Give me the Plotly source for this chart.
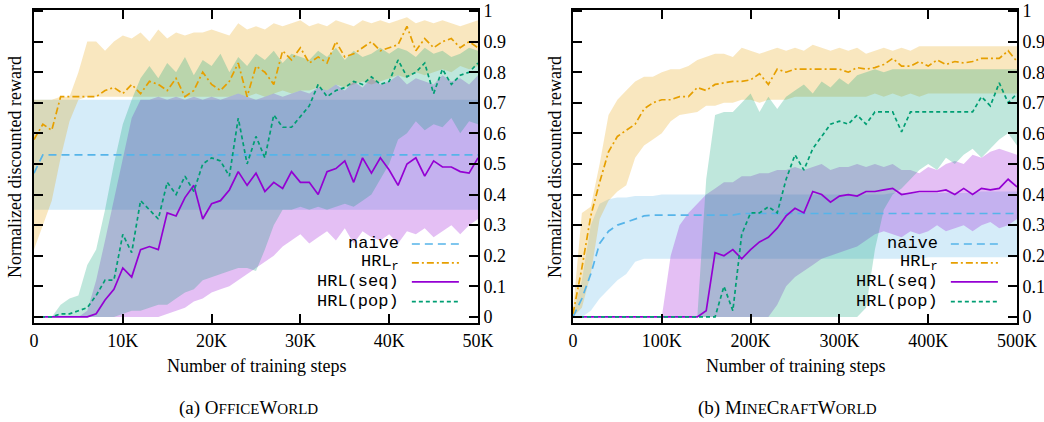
import plotly.graph_objects as go

# ---------------- data: OfficeWorld (x in steps, every 1K) ----------------
steps_L = list(range(0, 50001, 1000))

naive_mean_L = [0.47, 0.53, 0.53, 0.53, 0.53, 0.53, 0.53, 0.53, 0.53, 0.53,
                0.53, 0.53, 0.53, 0.53, 0.53, 0.53, 0.53, 0.53, 0.53, 0.53,
                0.53, 0.53, 0.53, 0.53, 0.53, 0.53, 0.53, 0.53, 0.53, 0.53,
                0.53, 0.53, 0.53, 0.53, 0.53, 0.53, 0.53, 0.53, 0.53, 0.53,
                0.53, 0.53, 0.53, 0.53, 0.53, 0.53, 0.53, 0.53, 0.53, 0.53,
                0.53]
naive_lo_L = [0.35] * 51
naive_hi_L = [0.71] * 51

hrlr_mean_L = [0.58, 0.63, 0.61, 0.72, 0.72, 0.72, 0.72, 0.72, 0.74, 0.75,
               0.73, 0.76, 0.73, 0.77, 0.76, 0.74, 0.78, 0.72, 0.74, 0.80,
               0.76, 0.74, 0.77, 0.83, 0.72, 0.82, 0.80, 0.76, 0.87, 0.84,
               0.88, 0.83, 0.85, 0.83, 0.90, 0.85, 0.86, 0.88, 0.90, 0.87,
               0.88, 0.89, 0.95, 0.87, 0.91, 0.88, 0.90, 0.91, 0.88, 0.90,
               0.88]
hrlr_hi_L = [0.71, 0.71, 0.71, 0.72, 0.72, 0.80, 0.90, 0.90, 0.87, 0.90,
             0.92, 0.91, 0.93, 0.90, 0.94, 0.91, 0.93, 0.92, 0.93, 0.93,
             0.94, 0.93, 0.92, 0.96, 0.94, 0.95, 0.94, 0.96, 0.95, 0.96,
             0.97, 0.95, 0.96, 0.95, 0.97, 0.96, 0.95, 0.97, 0.96, 0.97,
             0.96, 0.97, 0.98, 0.96, 0.97, 0.96, 0.97, 0.96, 0.95, 0.96,
             0.97]
hrlr_lo_L = [0.22, 0.30, 0.38, 0.52, 0.64, 0.71, 0.72, 0.72, 0.72, 0.72,
             0.72, 0.72, 0.72, 0.72, 0.72, 0.72, 0.72, 0.72, 0.72, 0.72,
             0.72, 0.72, 0.72, 0.73, 0.72, 0.73, 0.72, 0.73, 0.74, 0.73,
             0.74, 0.74, 0.75, 0.74, 0.76, 0.75, 0.76, 0.77, 0.76, 0.77,
             0.78, 0.79, 0.78, 0.80, 0.79, 0.80, 0.81, 0.80, 0.82, 0.81,
             0.82]

seq_mean_L = [0.0, 0.0, 0.0, 0.0, 0.0, 0.0, 0.0, 0.01, 0.055, 0.09,
              0.16, 0.13, 0.22, 0.23, 0.22, 0.34, 0.33, 0.39, 0.43, 0.32,
              0.37, 0.38, 0.415, 0.475, 0.43, 0.47, 0.41, 0.44, 0.42, 0.475,
              0.44, 0.44, 0.40, 0.475, 0.485, 0.51, 0.44, 0.52, 0.47, 0.52,
              0.48, 0.43, 0.50, 0.52, 0.46, 0.51, 0.49, 0.49, 0.475, 0.47,
              0.52]
seq_hi_L = [0.0, 0.0, 0.0, 0.0, 0.0, 0.0, 0.02, 0.12, 0.25, 0.38,
            0.52, 0.65, 0.71, 0.71, 0.72, 0.71, 0.72, 0.71, 0.72, 0.71,
            0.72, 0.71, 0.72, 0.73, 0.72, 0.71, 0.72, 0.73, 0.72, 0.73,
            0.74, 0.73, 0.75, 0.74, 0.76, 0.74, 0.77, 0.75, 0.78, 0.76,
            0.77, 0.79, 0.76, 0.78, 0.77, 0.76, 0.79, 0.77, 0.78, 0.76,
            0.79]
seq_lo_L = [0.0, 0.0, 0.0, 0.0, 0.0, 0.0, 0.0, 0.0, 0.0, 0.0,
            0.0, 0.0, 0.0, 0.0, 0.0, 0.01, 0.02, 0.03, 0.05, 0.06,
            0.08, 0.09, 0.10, 0.12, 0.14, 0.16, 0.18, 0.20, 0.23, 0.25,
            0.27, 0.24, 0.26, 0.28, 0.25, 0.29, 0.24, 0.28, 0.26, 0.25,
            0.27, 0.24, 0.28, 0.27, 0.29, 0.26, 0.28, 0.30, 0.27, 0.30,
            0.32]

pop_mean_L = [0.0, 0.0, 0.0, 0.01, 0.01, 0.02, 0.03, 0.07, 0.12, 0.12,
              0.27, 0.21, 0.38, 0.35, 0.32, 0.44, 0.40, 0.46, 0.41, 0.50,
              0.52, 0.51, 0.46, 0.65, 0.50, 0.59, 0.52, 0.66, 0.62, 0.62,
              0.655, 0.69, 0.76, 0.72, 0.74, 0.75, 0.77, 0.76, 0.785, 0.76,
              0.77, 0.84, 0.785, 0.80, 0.83, 0.73, 0.81, 0.76, 0.79, 0.80,
              0.83]
pop_hi_L = [0.0, 0.0, 0.0, 0.04, 0.06, 0.07, 0.17, 0.22, 0.35, 0.50,
            0.63, 0.71, 0.78, 0.82, 0.78, 0.83, 0.80, 0.85, 0.79, 0.84,
            0.82, 0.86, 0.80, 0.85, 0.82, 0.86, 0.84, 0.87, 0.83, 0.86,
            0.85, 0.84, 0.87, 0.85, 0.88, 0.84, 0.87, 0.85, 0.86, 0.88,
            0.86, 0.88, 0.87, 0.85, 0.88, 0.86, 0.87, 0.85, 0.86, 0.88,
            0.87]
pop_lo_L = [0.0, 0.0, 0.0, 0.0, 0.0, 0.0, 0.0, 0.0, 0.0, 0.0,
            0.01, 0.02, 0.02, 0.03, 0.04, 0.04, 0.06, 0.08, 0.09, 0.12,
            0.13, 0.14, 0.15, 0.16, 0.16, 0.15, 0.22, 0.30, 0.35, 0.35,
            0.36, 0.35, 0.36, 0.35, 0.36, 0.37, 0.36, 0.38, 0.40, 0.45,
            0.50, 0.58, 0.60, 0.64, 0.61, 0.63, 0.62, 0.65, 0.60, 0.64,
            0.63]

# ---------------- data: MineCraftWorld (x in steps, every 10K) ----------------
steps_R = list(range(0, 500001, 10000))

naive_mean_R = [0.0, 0.06, 0.14, 0.24, 0.28, 0.30, 0.31, 0.32, 0.33, 0.333,
                0.333, 0.333, 0.333, 0.333, 0.333, 0.333, 0.333, 0.333, 0.333, 0.338,
                0.338, 0.338, 0.338, 0.338, 0.338, 0.338, 0.338, 0.338, 0.338, 0.338,
                0.338, 0.338, 0.338, 0.338, 0.338, 0.338, 0.338, 0.338, 0.338, 0.338,
                0.338, 0.338, 0.338, 0.338, 0.338, 0.338, 0.338, 0.338, 0.338, 0.338,
                0.338]
naive_hi_R = [0.01, 0.12, 0.30, 0.37, 0.385, 0.39, 0.39, 0.395, 0.395, 0.395,
              0.40, 0.40, 0.40, 0.40, 0.40, 0.40, 0.40, 0.40, 0.40, 0.40,
              0.40, 0.40, 0.40, 0.40, 0.40, 0.40, 0.40, 0.40, 0.40, 0.40,
              0.40, 0.40, 0.40, 0.40, 0.40, 0.40, 0.405, 0.405, 0.405, 0.405,
              0.405, 0.405, 0.405, 0.405, 0.405, 0.405, 0.41, 0.41, 0.41, 0.41,
              0.41]
naive_lo_R = [0.0, 0.0, 0.02, 0.06, 0.09, 0.12, 0.14, 0.18, 0.19, 0.19,
              0.19, 0.19, 0.19, 0.19, 0.19, 0.19, 0.19, 0.19, 0.19, 0.19,
              0.19, 0.19, 0.19, 0.19, 0.19, 0.19, 0.19, 0.19, 0.19, 0.19,
              0.19, 0.19, 0.19, 0.19, 0.19, 0.19, 0.19, 0.19, 0.19, 0.19,
              0.195, 0.195, 0.195, 0.195, 0.195, 0.195, 0.195, 0.195, 0.195, 0.195,
              0.195]

hrlr_mean_R = [0.01, 0.16, 0.33, 0.44, 0.54, 0.59, 0.61, 0.63, 0.68, 0.70,
               0.71, 0.71, 0.72, 0.72, 0.75, 0.74, 0.76, 0.765, 0.77, 0.77,
               0.775, 0.795, 0.76, 0.81, 0.80, 0.81, 0.81, 0.81, 0.81, 0.81,
               0.81, 0.80, 0.815, 0.81, 0.815, 0.825, 0.845, 0.82, 0.82, 0.835,
               0.82, 0.84, 0.825, 0.835, 0.83, 0.835, 0.845, 0.845, 0.845, 0.87,
               0.835]
hrlr_hi_R = [0.02, 0.34, 0.36, 0.50, 0.66, 0.71, 0.74, 0.77, 0.785, 0.785,
             0.80, 0.81, 0.81, 0.82, 0.84, 0.85, 0.86, 0.86, 0.85, 0.88,
             0.87, 0.86, 0.87, 0.88, 0.87, 0.88, 0.87, 0.89, 0.88, 0.87,
             0.88, 0.87, 0.88, 0.86, 0.87, 0.88, 0.87, 0.88, 0.87, 0.885,
             0.885, 0.885, 0.885, 0.885, 0.885, 0.885, 0.885, 0.885, 0.885, 0.885,
             0.885]
hrlr_lo_R = [0.0, 0.03, 0.14, 0.32, 0.38, 0.41, 0.43, 0.52, 0.56, 0.58,
             0.60, 0.64, 0.66, 0.665, 0.67, 0.69, 0.69, 0.70, 0.70, 0.71,
             0.71, 0.70, 0.71, 0.71, 0.71, 0.72, 0.72, 0.72, 0.72, 0.72,
             0.72, 0.72, 0.72, 0.72, 0.73, 0.72, 0.73, 0.72, 0.73, 0.72,
             0.73, 0.73, 0.73, 0.73, 0.73, 0.73, 0.73, 0.73, 0.73, 0.73,
             0.73]

seq_mean_R = [0.0, 0.0, 0.0, 0.0, 0.0, 0.0, 0.0, 0.0, 0.0, 0.0,
              0.0, 0.0, 0.0, 0.0, 0.0, 0.02, 0.21, 0.20, 0.22, 0.19,
              0.22, 0.245, 0.26, 0.29, 0.33, 0.355, 0.34, 0.41, 0.40, 0.375,
              0.395, 0.40, 0.395, 0.41, 0.41, 0.415, 0.42, 0.40, 0.405, 0.41,
              0.41, 0.41, 0.415, 0.40, 0.42, 0.40, 0.42, 0.415, 0.42, 0.45,
              0.425]
seq_hi_R = [0.0, 0.0, 0.0, 0.0, 0.0, 0.0, 0.0, 0.0, 0.0, 0.0,
            0.0, 0.20, 0.30, 0.34, 0.37, 0.40, 0.42, 0.44, 0.44, 0.46,
            0.46, 0.47, 0.47, 0.48, 0.48, 0.49, 0.48, 0.49, 0.50, 0.48,
            0.49, 0.49, 0.50, 0.49, 0.50, 0.49, 0.50, 0.48, 0.48, 0.47,
            0.49, 0.48, 0.50, 0.51, 0.50, 0.53, 0.52, 0.54, 0.55, 0.54,
            0.53]
seq_lo_R = [0.0, 0.0, 0.0, 0.0, 0.0, 0.0, 0.0, 0.0, 0.0, 0.0,
            0.0, 0.0, 0.0, 0.0, 0.0, 0.0, 0.0, 0.0, 0.0, 0.0,
            0.0, 0.0, 0.0, 0.04, 0.10, 0.13, 0.15, 0.17, 0.19, 0.20,
            0.21, 0.22, 0.23, 0.25, 0.27, 0.28, 0.27, 0.26, 0.28, 0.27,
            0.28, 0.30, 0.28, 0.29, 0.30, 0.28, 0.30, 0.31, 0.29, 0.30,
            0.32]

pop_mean_R = [0.0, 0.0, 0.0, 0.0, 0.0, 0.0, 0.0, 0.0, 0.0, 0.0,
              0.0, 0.0, 0.0, 0.0, 0.0, 0.0, 0.0, 0.10, 0.02, 0.27,
              0.34, 0.34, 0.36, 0.34, 0.45, 0.53, 0.48, 0.55, 0.59, 0.63,
              0.64, 0.63, 0.66, 0.63, 0.67, 0.67, 0.67, 0.605, 0.67, 0.67,
              0.67, 0.67, 0.67, 0.67, 0.67, 0.67, 0.72, 0.69, 0.765, 0.70,
              0.73]
pop_hi_R = [0.0, 0.0, 0.0, 0.0, 0.0, 0.0, 0.0, 0.0, 0.0, 0.0,
            0.0, 0.0, 0.0, 0.0, 0.0, 0.45, 0.66, 0.67, 0.67, 0.70,
            0.73, 0.67, 0.72, 0.68, 0.72, 0.74, 0.76, 0.73, 0.77, 0.75,
            0.78, 0.76, 0.79, 0.80, 0.81, 0.80, 0.81, 0.81, 0.81, 0.81,
            0.81, 0.81, 0.81, 0.81, 0.81, 0.81, 0.81, 0.81, 0.81, 0.81,
            0.81]
pop_lo_R = [0.0, 0.0, 0.0, 0.0, 0.0, 0.0, 0.0, 0.0, 0.0, 0.0,
            0.0, 0.0, 0.0, 0.0, 0.0, 0.0, 0.0, 0.0, 0.0, 0.0,
            0.0, 0.0, 0.0, 0.0, 0.0, 0.0, 0.0, 0.0, 0.0, 0.0,
            0.0, 0.0, 0.0, 0.03, 0.22, 0.35, 0.40, 0.42, 0.45, 0.48,
            0.50, 0.48, 0.52, 0.50, 0.53, 0.55, 0.52, 0.55, 0.58, 0.60,
            0.56]

# tick labels
yticks = [0, 0.1, 0.2, 0.3, 0.4, 0.5, 0.6, 0.7, 0.8, 0.9, 1]
ytick_text = ["0", "0.1", "0.2", "0.3", "0.4", "0.5", "0.6", "0.7", "0.8", "0.9", "1"]
xticks_L = [0, 10000, 20000, 30000, 40000, 50000]
xtick_text_L = ["0", "10K", "20K", "30K", "40K", "50K"]
xticks_R = [0, 100000, 200000, 300000, 400000, 500000]
xtick_text_R = ["0", "100K", "200K", "300K", "400K", "500K"]

series_names = ["naive", "HRL<sub>r</sub>", "HRL(seq)", "HRL(pop)"]

# ---------------- styles ----------------
COLORS = ["#56B4E9", "#E69F00", "#9400D3", "#009E73"]
FILLS = ["rgba(86,180,233,0.25)", "rgba(230,159,0,0.25)",
         "rgba(148,0,211,0.25)", "rgba(0,158,115,0.25)"]
DASHES = ["8px,5px", "7px,3px,2px,3px", "solid", "4px,3px"]
SERIF = "Liberation Serif"
MONO = "Liberation Mono"

panels = [
    dict(x=steps_L, xa="x", ya="y",
         means=[naive_mean_L, hrlr_mean_L, seq_mean_L, pop_mean_L],
         los=[naive_lo_L, hrlr_lo_L, seq_lo_L, pop_lo_L],
         his=[naive_hi_L, hrlr_hi_L, seq_hi_L, pop_hi_L]),
    dict(x=steps_R, xa="x2", ya="y2",
         means=[naive_mean_R, hrlr_mean_R, seq_mean_R, pop_mean_R],
         los=[naive_lo_R, hrlr_lo_R, seq_lo_R, pop_lo_R],
         his=[naive_hi_R, hrlr_hi_R, seq_hi_R, pop_hi_R]),
]

fig = go.Figure()
for p in panels:
    xs = p["x"]
    for i in range(4):
        fig.add_trace(go.Scatter(
            x=list(xs) + list(xs)[::-1],
            y=list(p["his"][i]) + list(p["los"][i])[::-1],
            fill="toself", fillcolor=FILLS[i], line=dict(width=0),
            mode="lines", hoverinfo="skip", showlegend=False,
            xaxis=p["xa"], yaxis=p["ya"]))
    for i in range(4):
        fig.add_trace(go.Scatter(
            x=xs, y=p["means"][i], mode="lines",
            line=dict(color=COLORS[i], width=1.7, dash=DASHES[i]),
            name=series_names[i], showlegend=False,
            xaxis=p["xa"], yaxis=p["ya"]))

axis_common = dict(showline=True, linewidth=2, linecolor="black", mirror="allticks",
                   ticks="inside", ticklen=9, tickwidth=2, tickcolor="black",
                   showgrid=False, zeroline=False, automargin=False,
                   tickfont=dict(family=SERIF, size=18, color="black"))

yd = [1 - 323 / 422, 1 - 9.5 / 422]
fig.update_layout(
    width=1044, height=422, margin=dict(l=0, r=0, t=0, b=0, autoexpand=False),
    paper_bgcolor="white", plot_bgcolor="white", showlegend=False,
    xaxis=dict(domain=[34 / 1044, 478 / 1044], range=[0, 50000], anchor="y",
               tickvals=xticks_L, ticktext=xtick_text_L, **axis_common),
    yaxis=dict(domain=yd, range=[-0.02, 1.005], anchor="x", side="right",
               tickvals=yticks, ticktext=ytick_text, **axis_common),
    xaxis2=dict(domain=[573 / 1044, 1017 / 1044], range=[0, 500000], anchor="y2",
                tickvals=xticks_R, ticktext=xtick_text_R, **axis_common),
    yaxis2=dict(domain=yd, range=[-0.02, 1.005], anchor="x2", side="right",
                tickvals=yticks, ticktext=ytick_text, **axis_common),
)

ann = []
small = "<span style='font-size:15px'>"
for cx, ytx, cap in [(256, 15, "(a) O" + small + "FFICE</span>W" + small + "ORLD</span>"),
                     (795, 555, "(b) M" + small + "INE</span>C" + small + "RAFT</span>W" + small + "ORLD</span>")]:
    ann.append(dict(x=cx / 1044, y=1 - 366 / 422, xref="paper", yref="paper",
                    text="Number of training steps", showarrow=False,
                    font=dict(family=SERIF, size=18, color="black"),
                    xanchor="center", yanchor="middle"))
    ann.append(dict(x=ytx / 1044, y=1 - 167 / 422, xref="paper", yref="paper",
                    text="Normalized discounted reward", showarrow=False, textangle=-90,
                    font=dict(family=SERIF, size=18, color="black"),
                    xanchor="center", yanchor="middle"))
    ann.append(dict(x=(cx - 8) / 1044, y=1 - 408 / 422, xref="paper", yref="paper",
                    text=cap, showarrow=False,
                    font=dict(family=SERIF, size=19, color="black"),
                    xanchor="center", yanchor="middle"))

# in-plot legend (text right-aligned, sample line to its right)
legend_rows = [0.252, 0.192, 0.131, 0.068]
shapes = []
for xa, ya in [("x", "y"), ("x2", "y2")]:
    for i, ry in enumerate(legend_rows):
        ann.append(dict(x=0.826, y=ry, xref=xa + " domain", yref=ya + " domain",
                        text=series_names[i], showarrow=False,
                        font=dict(family=MONO, size=17, color="black"),
                        xanchor="right", yanchor="middle"))
        shapes.append(dict(type="line", xref=xa + " domain", yref=ya + " domain",
                           x0=0.851, x1=0.957, y0=ry, y1=ry,
                           line=dict(color=COLORS[i], width=1.7, dash=DASHES[i])))

fig.update_layout(annotations=ann, shapes=shapes)
fig.write_html("out.html", config={"displayModeBar": False},
               post_script="document.body.style.margin='0px';")
